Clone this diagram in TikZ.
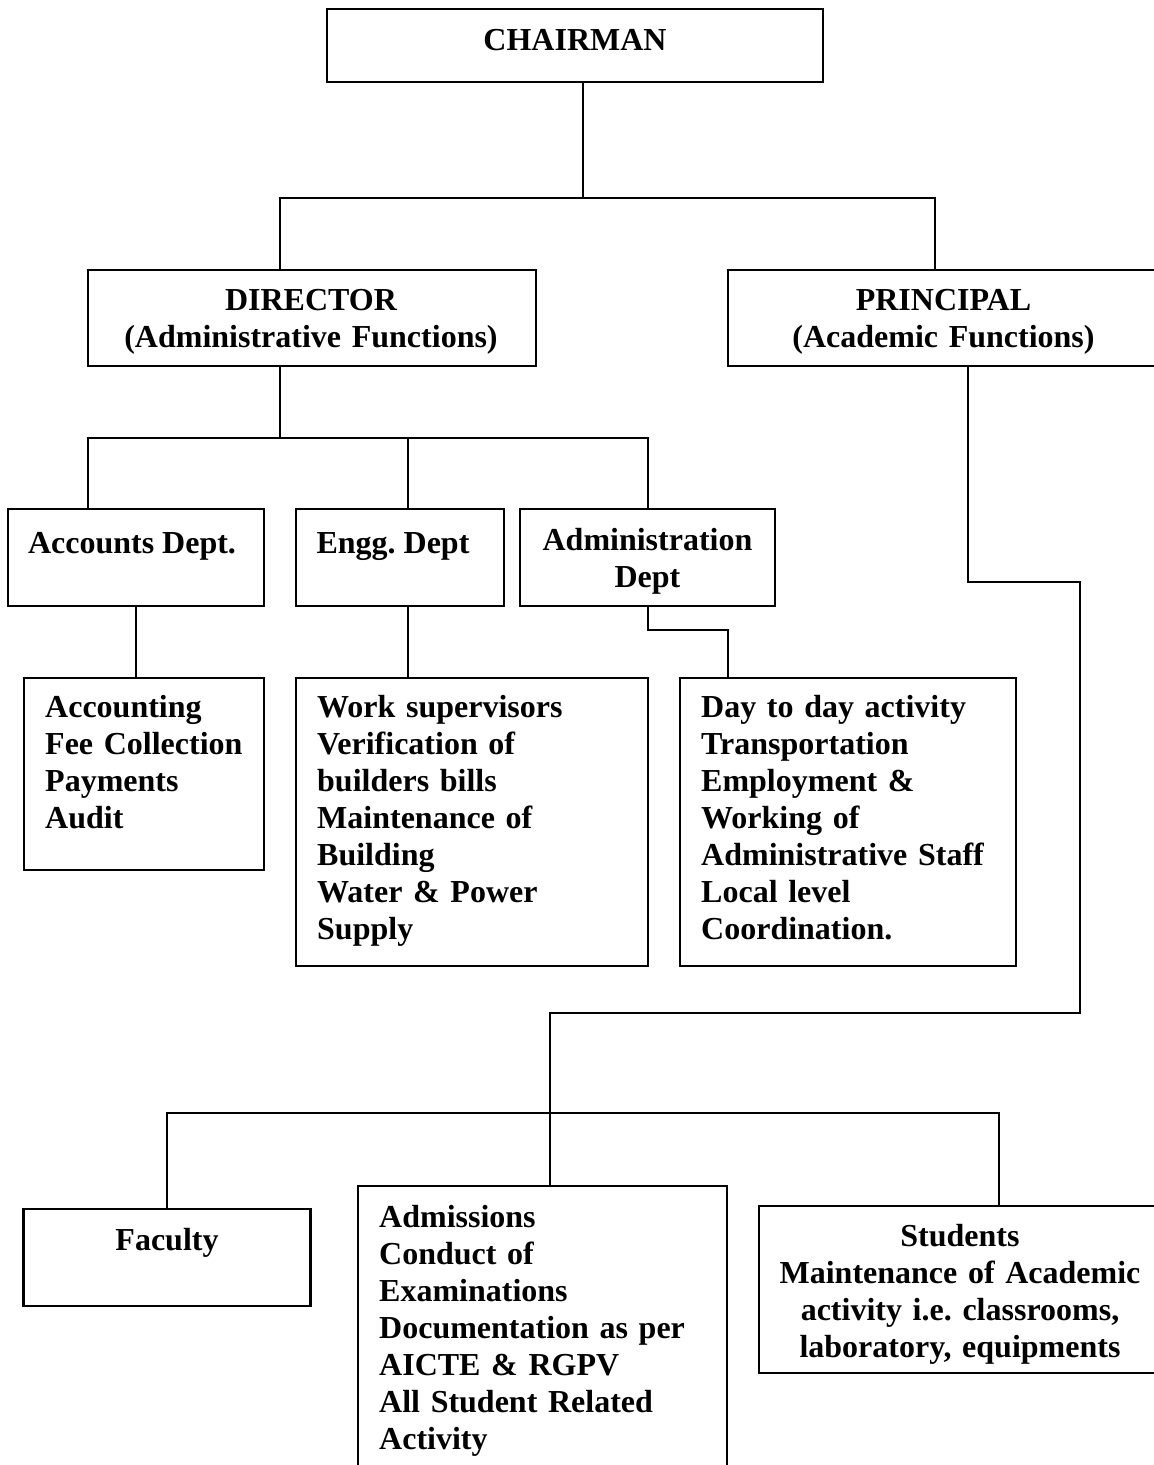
\documentclass[tikz,border=0pt]{standalone}
\usepackage{fontspec}
\setmainfont{Liberation Serif}
\frenchspacing
\begin{document}
\begin{tikzpicture}[x=1pt,y=-1pt,
  box/.style={draw, line width=2.2pt, inner sep=0pt},
  conn/.style={line width=2pt},
  txt/.style={inner sep=0pt, font=\bfseries\fontsize{32}{37}\selectfont\frenchspacing},
  ltxt/.style={txt, text width=420pt, align=left, anchor=base west},
  ctxt/.style={txt, text width=440pt, align=center, anchor=base}]
\useasboundingbox (0,0) rectangle (1154,1465);

% boxes
\node[box, minimum width=496pt, minimum height=73pt] (chair) at (575,45.5) {};
\node[box, minimum width=448pt, minimum height=96pt] (dir) at (312,318) {};
\node[box, minimum width=432pt, minimum height=96pt] (prin) at (944,318) {};
\node[box, minimum width=256pt, minimum height=97pt] (acc) at (136,557.5) {};
\node[box, minimum width=208pt, minimum height=97pt] (engg) at (400,557.5) {};
\node[box, minimum width=255pt, minimum height=97pt] (adm) at (647.5,557.5) {};
\node[box, minimum width=240pt, minimum height=192pt] (accb) at (144,774) {};
\node[box, minimum width=352pt, minimum height=288pt] (work) at (472,822) {};
\node[box, minimum width=336pt, minimum height=288pt] (day) at (848,822) {};
\node[box, minimum width=287pt, minimum height=97pt] (fac) at (167,1257.5) {};
\node[box, minimum width=369pt, minimum height=304pt] (adm2) at (542.5,1338) {};
\node[box, minimum width=402pt, minimum height=167pt] (stud) at (960,1289.5) {};

% texts
\node[txt, anchor=base] (chairT) at (575,50) {CHAIRMAN};
\node[ctxt] (dirT) at (311,310) {DIRECTOR\\(Administrative Functions)};
\node[ctxt] (prinT) at (943.5,310.5) {PRINCIPAL\\(Academic Functions)};
\node[txt, anchor=base] (accT) at (132,553) {Accounts Dept.};
\node[txt, anchor=base] (enggT) at (393,553) {Engg. Dept};
\node[ctxt] (admT) at (647.5,550) {Administration\\Dept};
\node[ltxt] (accbT) at (45,717) {Accounting\\Fee Collection\\Payments\\Audit};
\node[ltxt] (workT) at (317,717) {Work supervisors\\Verification of\\builders bills\\Maintenance of\\Building\\Water \& Power\\Supply};
\node[ltxt] (dayT) at (701,717) {Day to day activity\\Transportation\\Employment \&\\Working of\\Administrative Staff\\Local level\\Coordination.};
\node[txt, anchor=base] (facT) at (167,1250) {Faculty};
\node[ltxt] (adm2T) at (379,1227) {Admissions\\Conduct of\\Examinations\\Documentation as per\\AICTE \& RGPV\\All Student Related\\Activity};
\node[ctxt] (studT) at (960,1246) {Students\\Maintenance of Academic\\activity i.e. classrooms,\\laboratory, equipments};

% connector coordinates
\coordinate (c1) at (583,198);
\coordinate (b1l) at (280,198);
\coordinate (b1r) at (935,198);
\coordinate (d1) at (280,438);
\coordinate (b2l) at (88,438);
\coordinate (b2m) at (408,438);
\coordinate (b2r) at (648,438);
\coordinate (a1) at (648,630);
\coordinate (a2) at (728,630);
\coordinate (p1) at (968,582);
\coordinate (p2) at (1080,582);
\coordinate (p3) at (1080,1013);
\coordinate (p4) at (550,1013);
\coordinate (b3l) at (167,1113);
\coordinate (b3m) at (550,1113);
\coordinate (b3r) at (999,1113);

% connectors
\draw[conn] (c1 |- chair.south) -- (c1);
\draw[conn] (b1l |- dir.north) -- (b1l) -- (b1r) -- (b1r |- prin.north);
\draw[conn] (d1 |- dir.south) -- (d1);
\draw[conn] (b2l |- acc.north) -- (b2l) -- (b2r) -- (b2r |- adm.north);
\draw[conn] (b2m) -- (b2m |- engg.north);
\draw[conn] (acc.south -| 136,0) -- (accb.north -| 136,0);
\draw[conn] (engg.south -| 408,0) -- (work.north -| 408,0);
\draw[conn] (a1 |- adm.south) -- (a1) -- (a2) -- (a2 |- day.north);
\draw[conn] (p1 |- prin.south) -- (p1) -- (p2) -- (p3) -- (p4) -- (b3m);
\draw[conn] (b3l |- fac.north) -- (b3l) -- (b3r) -- (b3r |- stud.north);
\draw[conn] (b3m) -- (b3m |- adm2.north);
\end{tikzpicture}
\end{document}
